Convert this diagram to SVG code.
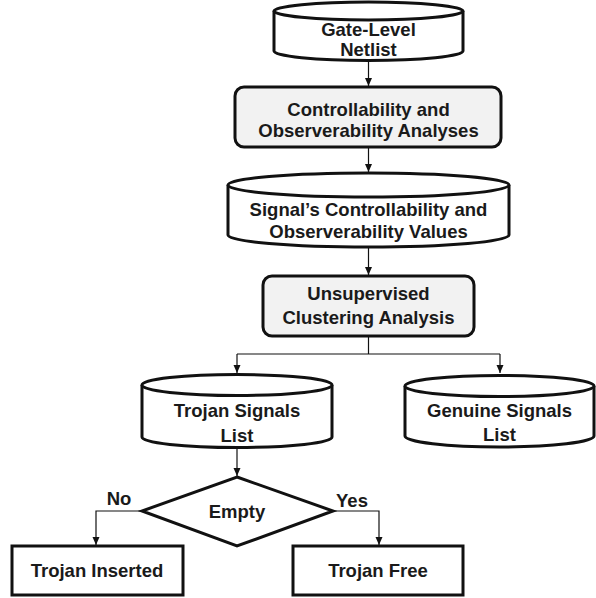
<svg xmlns="http://www.w3.org/2000/svg" width="596" height="598" viewBox="0 0 596 598">
<style>
.shape{fill:#ffffff;stroke:#111111;stroke-width:3}
.proc{fill:#f2f2f2;stroke:#111111;stroke-width:3}
.lbl{font-family:"Liberation Sans",Arial,sans-serif;font-weight:bold;font-size:18.5px;fill:#1a1a1a;text-anchor:middle}
.conn{fill:none;stroke:#111111;stroke-width:1.2}
</style>
<defs>
<marker id="arr" markerUnits="userSpaceOnUse" markerWidth="9" markerHeight="8" refX="8" refY="3.5" orient="auto">
<path d="M0,0 L8,3.5 L0,7 z" fill="#111111"/>
</marker>
</defs>
<rect width="596" height="598" fill="#ffffff"/>
<g id="connectors">
<line class="conn" x1="368.5" y1="61" x2="368.5" y2="86" marker-end="url(#arr)"/>
<line class="conn" x1="368.5" y1="148" x2="368.5" y2="172" marker-end="url(#arr)"/>
<line class="conn" x1="368.5" y1="247" x2="368.5" y2="275" marker-end="url(#arr)"/>
<polyline class="conn" points="368.5,337 368.5,354"/>
<line class="conn" x1="237" y1="354" x2="500" y2="354"/>
<line class="conn" x1="237" y1="354" x2="237" y2="373" marker-end="url(#arr)"/>
<line class="conn" x1="500" y1="354" x2="500" y2="373" marker-end="url(#arr)"/>
<line class="conn" x1="237" y1="448" x2="237" y2="476" marker-end="url(#arr)"/>
<polyline class="conn" points="142,511 96,511 96,545" marker-end="url(#arr)"/>
<polyline class="conn" points="333,511 379,511 379,545" marker-end="url(#arr)"/>
</g>
<g id="netlist">
<path class="shape" d="M274,11 L274,51 A94.5,9.5 0 0 0 463,51 L463,11"/>
<ellipse class="shape" cx="368.5" cy="11" rx="94.5" ry="9"/>
<text class="lbl" x="368.5" y="36">Gate-Level</text>
<text class="lbl" x="368.5" y="56">Netlist</text>
</g>
<g id="analyses">
<rect class="proc" x="235" y="87" width="266" height="60" rx="9"/>
<text class="lbl" x="368.5" y="116">Controllability and</text>
<text class="lbl" x="368.5" y="137">Observerability Analyses</text>
</g>
<g id="values">
<path class="shape" d="M228,185 L228,235 A140.5,12 0 0 0 509,235 L509,185"/>
<ellipse class="shape" cx="368.5" cy="185" rx="140.5" ry="12"/>
<text class="lbl" x="368.5" y="216">Signal’s Controllability and</text>
<text class="lbl" x="368.5" y="238">Observerability Values</text>
</g>
<g id="clustering">
<rect class="proc" x="263" y="276" width="211" height="60" rx="9"/>
<text class="lbl" x="368.5" y="300">Unsupervised</text>
<text class="lbl" x="368.5" y="324">Clustering Analysis</text>
</g>
<g id="trojan-list">
<path class="shape" d="M142,385 L142,437 A95,10.5 0 0 0 332,437 L332,385"/>
<ellipse class="shape" cx="237" cy="385" rx="95" ry="10.5"/>
<text class="lbl" x="237" y="417">Trojan Signals</text>
<text class="lbl" x="237" y="442">List</text>
</g>
<g id="genuine-list">
<path class="shape" d="M405,386 L405,436 A94.5,11 0 0 0 594,436 L594,386"/>
<ellipse class="shape" cx="499.5" cy="386" rx="94.5" ry="10.5"/>
<text class="lbl" x="499.5" y="417">Genuine Signals</text>
<text class="lbl" x="499.5" y="441">List</text>
</g>
<g id="empty">
<polygon class="shape" points="237,477 333,511 237,546 142,511"/>
<text class="lbl" x="237" y="518">Empty</text>
<text class="lbl" x="119" y="505">No</text>
<text class="lbl" x="352" y="507">Yes</text>
</g>
<g id="inserted">
<rect class="shape" x="12" y="546" width="171" height="49"/>
<text class="lbl" x="97" y="577">Trojan Inserted</text>
</g>
<g id="free">
<rect class="shape" x="293" y="546" width="170" height="49"/>
<text class="lbl" x="378" y="577">Trojan Free</text>
</g>
</svg>
